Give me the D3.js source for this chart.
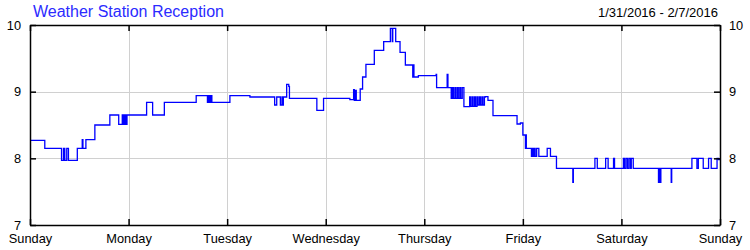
<!DOCTYPE html>
<html>
<head>
<meta charset="utf-8">
<script src="https://cdn.jsdelivr.net/npm/d3@7"></script>
<style>
  html, body { margin: 0; padding: 0; background: #fff; }
  svg { display: block; font-family: "Liberation Sans", Arial, sans-serif; }
</style>
</head>
<body>
<svg id="chart" width="750" height="250"></svg>
<script>
const title = "Weather Station Reception";
const dateRange = "1/31/2016 - 2/7/2016";
const dayLabels = ["Sunday", "Monday", "Tuesday", "Wednesday", "Thursday", "Friday", "Saturday", "Sunday"];
const yTicks = [7, 8, 9, 10];

// time in days since Sunday 0:00, signal value (step series)
const times = [
  0.00, 0.15, 0.32, 0.34, 0.353, 0.373, 0.39, 0.48, 0.53, 0.537, 0.567, 0.658, 0.81, 0.90,
  0.936, 0.945, 0.955, 0.962, 0.97, 0.975, 0.984, 1.183, 1.244, 1.363, 1.686,
  1.80, 1.805, 1.812, 1.82, 1.828, 1.835, 1.845, 2.028, 2.231, 2.482, 2.503,
  2.54, 2.556, 2.562, 2.57, 2.604, 2.625, 2.632, 2.91, 2.978, 3.245,
  3.283, 3.29, 3.30, 3.31, 3.35, 3.374, 3.408, 3.493, 3.588, 3.656, 3.675, 3.68, 3.71,
  3.754, 3.808, 3.883, 3.89, 3.895, 3.94, 4.12, 4.125, 4.232, 4.24, 4.273,
  4.285, 4.295, 4.31, 4.32, 4.335, 4.345, 4.36, 4.37, 4.385, 4.402,
  4.46, 4.47, 4.485, 4.495, 4.51, 4.52, 4.535, 4.545, 4.56, 4.57, 4.585, 4.595, 4.61, 4.619,
  4.646, 4.697, 4.707, 4.941, 4.975, 5.0, 5.026, 5.03, 5.035,
  5.087, 5.095, 5.105, 5.115, 5.125, 5.14, 5.162, 5.182, 5.247, 5.28, 5.341,
  5.507, 5.512, 5.731, 5.755, 5.84, 5.865, 5.92, 5.93,
  6.02, 6.03, 6.045, 6.06, 6.075, 6.09, 6.10, 6.12,
  6.376, 6.385, 6.39, 6.40, 6.505, 6.51, 6.715, 6.766, 6.78, 6.83, 6.884, 6.911, 6.97, 6.985, 7.0
];
const values = [
  8.27, 8.15, 7.97, 8.15, 7.97, 8.15, 7.97, 8.15, 8.28, 8.15, 8.28, 8.50, 8.65, 8.51,
  8.65, 8.51, 8.65, 8.51, 8.65, 8.51, 8.65, 8.84, 8.65, 8.84, 8.94,
  8.84, 8.94, 8.84, 8.94, 8.84, 8.94, 8.84, 8.94, 8.92, 8.80, 8.92,
  8.80, 8.92, 8.80, 8.92, 9.11, 9.08, 8.90, 8.72, 8.90, 8.88,
  9.03, 8.87, 9.02, 8.87, 9.04, 9.22, 9.41, 9.62, 9.75, 9.95, 9.75, 9.95, 9.75,
  9.59, 9.40, 9.22, 9.40, 9.22, 9.24, 9.26, 9.06, 9.26, 9.06, 8.90,
  9.06, 8.90, 9.06, 8.90, 9.06, 8.90, 9.06, 8.90, 9.06, 8.775,
  8.92, 8.78, 8.92, 8.78, 8.92, 8.78, 8.92, 8.80, 8.92, 8.80, 8.92, 8.80, 8.92, 8.925,
  8.87, 8.64, 8.64, 8.515, 8.53, 8.35, 8.15, 8.35, 8.15,
  8.03, 8.15, 8.03, 8.15, 8.03, 8.15, 8.03, 8.03, 8.15, 8.03, 7.85,
  7.64, 7.85, 8.00, 7.85, 8.00, 7.85, 8.00, 7.85,
  8.00, 7.85, 8.00, 7.85, 8.00, 7.85, 8.00, 7.85,
  7.64, 7.85, 7.64, 7.85, 7.64, 7.85, 8.00, 7.85, 8.00, 7.85, 8.00, 7.85, 8.00, 7.98, 7.98
];

const svg = d3.select("#chart");
const m = { left: 30, right: 720, top: 25, bottom: 225 };

const x = d3.scaleLinear().domain([0, 7]).range([m.left, m.right]);
const y = d3.scaleLinear().domain([7, 10]).range([m.bottom, m.top]);
const dayTicks = d3.range(0, 8);

// grid
const grid = svg.append("g").attr("stroke", "#d0d0d0").attr("stroke-width", 1);
grid.selectAll(".gx").data(dayTicks.slice(1, -1)).join("line")
  .attr("x1", d => Math.round(x(d)) + 0.5).attr("x2", d => Math.round(x(d)) + 0.5)
  .attr("y1", m.top).attr("y2", m.bottom);
grid.selectAll(".gy").data(yTicks.slice(1, -1)).join("line")
  .attr("x1", m.left).attr("x2", m.right)
  .attr("y1", d => Math.round(y(d)) + 0.5).attr("y2", d => Math.round(y(d)) + 0.5);

// line
const pts = times.map((t, i) => [t, values[i]]);
const line = d3.line().x(d => x(d[0])).y(d => y(d[1])).curve(d3.curveStepAfter);
svg.append("path").datum(pts)
  .attr("fill", "none").attr("stroke", "#0000ff").attr("stroke-width", 1.3)
  .attr("d", line);

// axes
const fmtDay = d => dayLabels[d];
const axB = svg.append("g").attr("transform", `translate(0,${m.bottom})`)
  .call(d3.axisBottom(x).tickValues(dayTicks).tickFormat(fmtDay).tickSizeInner(-6).tickSizeOuter(0).tickPadding(9));
const axT = svg.append("g").attr("transform", `translate(0,${m.top})`)
  .call(d3.axisTop(x).tickValues(dayTicks).tickFormat("").tickSizeInner(-6).tickSizeOuter(0));
const axL = svg.append("g").attr("transform", `translate(${m.left},0)`)
  .call(d3.axisLeft(y).tickValues(yTicks).tickFormat(d3.format("d")).tickSizeInner(-6).tickSizeOuter(0).tickPadding(9));
const axR = svg.append("g").attr("transform", `translate(${m.right},0)`)
  .call(d3.axisRight(y).tickValues(yTicks).tickFormat(d3.format("d")).tickSizeInner(-6).tickSizeOuter(0).tickPadding(9));

[axB, axT, axL, axR].forEach(a => {
  a.select(".domain").attr("stroke", "#000").attr("stroke-width", 1.5);
  a.selectAll(".tick line").attr("stroke", "#000").attr("stroke-width", 1.5);
  a.selectAll("text").attr("fill", "#000").attr("font-size", 12.8)
    .attr("font-family", "'Liberation Sans', Arial, sans-serif");
});

// titles
svg.append("text").attr("x", 33).attr("y", 17)
  .attr("fill", "#2b2bff").attr("font-size", 16).text(title);
svg.append("text").attr("x", 718).attr("y", 17).attr("text-anchor", "end")
  .attr("fill", "#000").attr("font-size", 13).text(dateRange);
</script>
</body>
</html>
